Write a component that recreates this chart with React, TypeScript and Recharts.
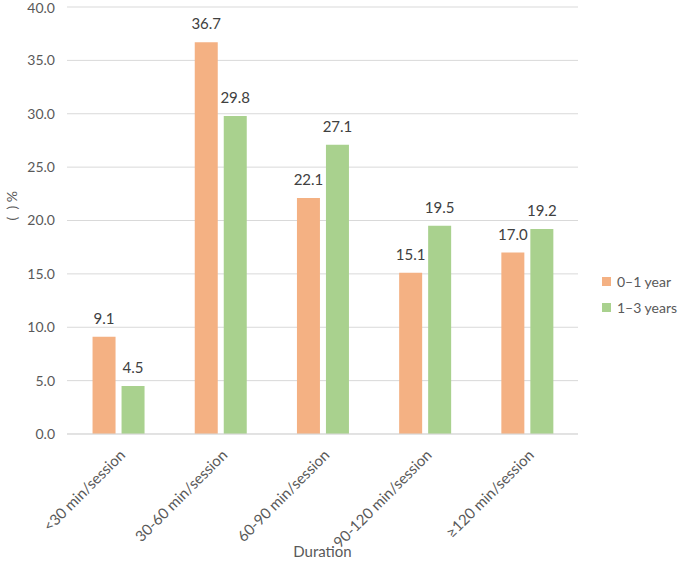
import React from 'react';
import { BarChart, Bar, XAxis, YAxis, CartesianGrid, LabelList, Legend } from 'recharts';

const categories = ['<30 min/session', '30-60 min/session', '60-90 min/session', '90-120 min/session', '≥120 min/session'];
const year01 = [9.1, 36.7, 22.1, 15.1, 17.0];
const year13 = [4.5, 29.8, 27.1, 19.5, 19.2];
const yTicks = [0, 5, 10, 15, 20, 25, 30, 35, 40];
const seriesNames = ['0–1 year', '1–3 years'];
const colors = ['#F4B183', '#A9D18E'];

const data = categories.map((c, i) => ({ name: c, a: year01[i], b: year13[i] }));

const FONT = 'Lato, "Open Sans", sans-serif';

const XTick = (props: any) => {
  const { x, y, payload } = props;
  return (
    <g transform={`translate(${x + 8},${y + 14})`}>
      <text x={0} y={0} textAnchor="end" fill="#595959" fontSize={15} fontFamily={FONT} transform="rotate(-45)">
        {payload.value}
      </text>
    </g>
  );
};

const LegendContent = () => (
  <div style={{ fontFamily: FONT, fontSize: 14, color: '#595959' }}>
    {seriesNames.map((n, i) => (
      <div key={n} style={{ display: 'flex', alignItems: 'center', height: 26 }}>
        <span style={{ display: 'inline-block', width: 9, height: 9, background: colors[i], marginRight: 6 }} />
        <span>{n}</span>
      </div>
    ))}
  </div>
);

export default function App() {
  return (
    <div style={{ position: 'absolute', left: 0, top: 0, width: 685, height: 561, background: '#fff' }}>
      <BarChart
        width={685}
        height={561}
        data={data}
        margin={{ top: 7, right: 107, bottom: 0, left: 0 }}
        barCategoryGap="25%"
        barGap={6}
      >
        <CartesianGrid vertical={false} stroke="#D9D9D9" />
        <XAxis
          dataKey="name"
          height={127}
          interval={0}
          tick={<XTick />}
          tickLine={false}
          axisLine={{ stroke: '#D9D9D9' }}
          label={{ value: 'Duration', position: 'insideBottom', offset: 4, fill: '#595959', fontSize: 15, fontFamily: FONT }}
        />
        <YAxis
          width={67}
          domain={[0, 40]}
          ticks={yTicks}
          tickFormatter={(v: number) => v.toFixed(1)}
          axisLine={false}
          tickLine={false}
          tickMargin={6}
          tick={{ fill: '#595959', fontSize: 14, fontFamily: FONT }}
          label={{ value: '(\u00a0\u00a0) %', angle: -90, position: 'insideLeft', offset: 12, fill: '#595959', fontSize: 14, fontFamily: FONT }}
        />
        <Legend
          layout="horizontal"
          verticalAlign="middle"
          align="center"
          content={<LegendContent />}
          wrapperStyle={{ position: 'absolute', left: 602, top: 268, width: 90 }}
        />
        <Bar dataKey="a" name={seriesNames[0]} fill={colors[0]} isAnimationActive={false}>
          <LabelList dataKey="a" position="top" offset={13} fill="#404040" fontSize={15} fontFamily={FONT} formatter={(v: any) => Number(v).toFixed(1)} />
        </Bar>
        <Bar dataKey="b" name={seriesNames[1]} fill={colors[1]} isAnimationActive={false}>
          <LabelList dataKey="b" position="top" offset={13} fill="#404040" fontSize={15} fontFamily={FONT} formatter={(v: any) => Number(v).toFixed(1)} />
        </Bar>
      </BarChart>
    </div>
  );
}
